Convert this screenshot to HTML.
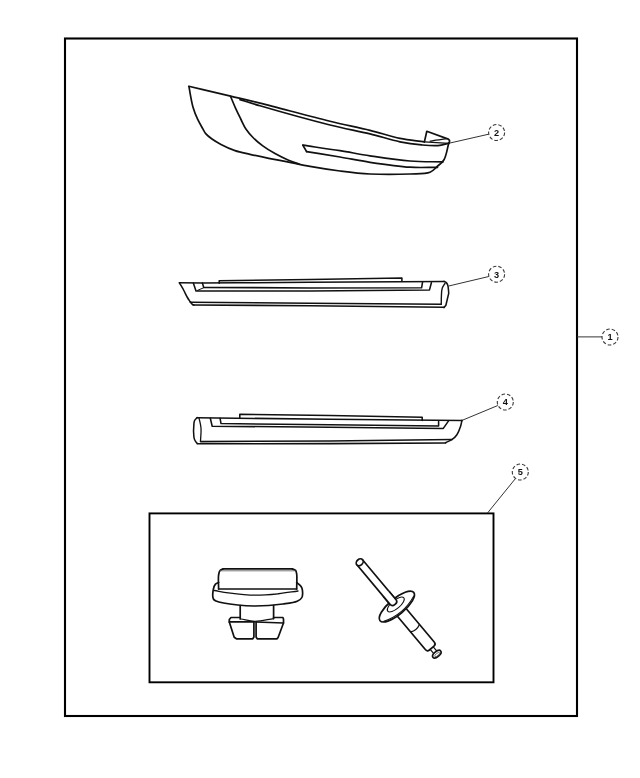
<!DOCTYPE html>
<html><head><meta charset="utf-8"><title>Parts diagram</title>
<style>
html,body{margin:0;padding:0;background:#fff;}
body{width:640px;height:778px;overflow:hidden;font-family:"Liberation Sans",sans-serif;}
svg{display:block;}
text{will-change:transform;}
</style></head><body>
<svg width="640" height="778" viewBox="0 0 640 778"><rect x="65" y="38.5" width="512" height="677.5" fill="none" stroke="#000" stroke-width="2.1"/>
<rect x="149.5" y="513.4" width="344" height="168.9" fill="none" stroke="#000" stroke-width="1.9"/>
<path d="M577.00,336.90 L602.20,336.90" fill="none" stroke="#333" stroke-width="1.0" stroke-linejoin="round" stroke-linecap="butt"/>
<circle cx="610.0" cy="337.0" r="8" fill="#fff" stroke="#383838" stroke-width="1.1" stroke-dasharray="3.6 2.0"/>
<text x="610.0" y="340.3" font-family="Liberation Sans, sans-serif" font-size="9.2" font-weight="bold" fill="#111" text-anchor="middle">1</text>
<path d="M450.00,143.00 L488.70,134.20" fill="none" stroke="#333" stroke-width="1.0" stroke-linejoin="round" stroke-linecap="butt"/>
<circle cx="496.6" cy="132.5" r="8" fill="#fff" stroke="#383838" stroke-width="1.1" stroke-dasharray="3.6 2.0"/>
<text x="496.6" y="135.8" font-family="Liberation Sans, sans-serif" font-size="9.2" font-weight="bold" fill="#111" text-anchor="middle">2</text>
<path d="M448.75,286.00 L488.80,276.50" fill="none" stroke="#333" stroke-width="1.0" stroke-linejoin="round" stroke-linecap="butt"/>
<circle cx="496.6" cy="274.2" r="8" fill="#fff" stroke="#383838" stroke-width="1.1" stroke-dasharray="3.6 2.0"/>
<text x="496.6" y="277.5" font-family="Liberation Sans, sans-serif" font-size="9.2" font-weight="bold" fill="#111" text-anchor="middle">3</text>
<path d="M462.50,420.20 L497.80,405.50" fill="none" stroke="#333" stroke-width="1.0" stroke-linejoin="round" stroke-linecap="butt"/>
<circle cx="505.3" cy="402.0" r="8" fill="#fff" stroke="#383838" stroke-width="1.1" stroke-dasharray="3.6 2.0"/>
<text x="505.3" y="405.3" font-family="Liberation Sans, sans-serif" font-size="9.2" font-weight="bold" fill="#111" text-anchor="middle">4</text>
<path d="M487.50,513.00 L515.50,478.50" fill="none" stroke="#333" stroke-width="1.0" stroke-linejoin="round" stroke-linecap="butt"/>
<circle cx="520.3" cy="472.0" r="8" fill="#fff" stroke="#383838" stroke-width="1.1" stroke-dasharray="3.6 2.0"/>
<text x="520.3" y="475.3" font-family="Liberation Sans, sans-serif" font-size="9.2" font-weight="bold" fill="#111" text-anchor="middle">5</text>
<path d="M189.00,86.50 C189.47,89.30 189.81,91.82 190.40,94.90 C191.12,98.68 191.89,103.42 193.10,107.50 C194.30,111.52 195.90,115.52 197.60,119.20 C199.22,122.69 201.49,126.45 203.00,129.10 C204.03,130.90 204.46,132.13 205.70,133.60 C207.26,135.45 209.63,137.29 212.00,139.00 C214.66,140.92 217.61,142.64 221.00,144.40 C225.10,146.53 230.18,148.95 235.00,150.60 C239.84,152.26 244.71,153.08 250.00,154.30 C255.89,155.65 262.49,157.05 268.75,158.30 C274.99,159.55 280.97,160.52 287.50,161.80 C294.66,163.20 301.94,164.96 310.00,166.40 C319.26,168.06 329.98,169.73 340.00,171.00 C349.98,172.26 359.27,173.46 370.00,174.00 C382.36,174.62 398.96,174.47 410.00,174.00 C417.82,173.67 425.14,174.25 430.00,172.30 C433.37,170.95 435.14,168.38 437.50,166.25 C439.81,164.17 442.26,162.66 444.00,159.70 C446.37,155.67 447.17,148.77 448.75,143.30" fill="none" stroke="#111" stroke-width="1.7" stroke-linejoin="round" stroke-linecap="round" />
<path d="M230.60,96.50 C232.43,100.80 234.32,105.49 236.10,109.40 C237.61,112.72 238.94,115.37 240.50,118.50 C242.19,121.88 243.77,125.79 245.90,129.00 C247.96,132.11 250.32,134.78 253.00,137.50 C255.90,140.43 259.25,143.28 262.80,145.90 C266.55,148.67 270.80,151.25 275.00,153.60 C279.20,155.95 283.76,158.18 288.00,160.00 C291.88,161.66 295.60,162.80 299.40,164.20" fill="none" stroke="#111" stroke-width="1.7" stroke-linejoin="round" stroke-linecap="round" />
<path d="M188.75,86.25 C202.70,89.53 217.88,93.09 230.60,96.10 C241.26,98.62 248.13,100.15 260.00,103.10 C278.37,107.67 309.88,116.37 330.00,121.25 C345.15,124.93 357.65,127.26 370.00,130.30 C380.75,132.95 390.46,136.33 400.00,138.30 C408.50,140.05 416.27,140.70 424.40,141.90" fill="none" stroke="#111" stroke-width="1.7" stroke-linejoin="round" stroke-linecap="round" />
<path d="M240.00,99.60 C246.67,101.67 251.28,103.25 260.00,105.80 C276.23,110.54 309.86,120.00 330.00,125.00 C345.13,128.76 357.65,130.90 370.00,133.90 C380.74,136.51 390.77,139.93 400.00,141.80 C407.74,143.37 414.88,144.28 421.60,144.90 C427.43,145.44 433.13,146.01 438.00,145.60 C441.98,145.26 445.17,144.07 448.75,143.30" fill="none" stroke="#111" stroke-width="1.7" stroke-linejoin="round" stroke-linecap="round" />
<path d="M424.40,141.90 L426.80,131.30 L448.30,139.10 L448.30,139.10 C448.73,139.67 449.49,140.15 449.60,140.80 C449.72,141.53 449.03,142.47 448.75,143.30" fill="none" stroke="#111" stroke-width="1.7" stroke-linejoin="round" stroke-linecap="round" />
<path d="M430.20,141.20 C432.13,140.87 433.77,140.56 436.00,140.20 C439.02,139.71 443.13,139.13 446.70,138.60" fill="none" stroke="#111" stroke-width="1.3" stroke-linejoin="round" stroke-linecap="round" />
<path d="M424.40,141.90 L448.75,143.30" fill="none" stroke="#111" stroke-width="1.2" stroke-linejoin="round" stroke-linecap="round" />
<path d="M302.90,145.20 C315.27,147.03 328.30,148.84 340.00,150.70 C350.54,152.38 359.27,154.19 370.00,155.80 C382.36,157.65 397.28,160.00 410.00,161.00 C421.50,161.90 432.00,161.60 443.00,161.90" fill="none" stroke="#111" stroke-width="1.7" stroke-linejoin="round" stroke-linecap="round" />
<path d="M306.60,151.60 C317.73,153.40 329.17,155.17 340.00,157.00 C350.27,158.74 359.26,160.69 370.00,162.30 C382.35,164.15 397.89,166.44 410.00,167.20 C420.00,167.83 428.33,167.27 437.50,167.30" fill="none" stroke="#111" stroke-width="1.7" stroke-linejoin="round" stroke-linecap="round" />
<path d="M302.90,145.20 L306.60,151.60" fill="none" stroke="#111" stroke-width="1.7" stroke-linejoin="round" stroke-linecap="round" />
<path d="M179.40,282.80 L202.50,282.90" fill="none" stroke="#111" stroke-width="1.55" stroke-linejoin="round" stroke-linecap="round" />
<path d="M202.50,283.10 C238.33,282.83 272.19,282.57 310.00,282.30 C352.21,282.00 399.33,281.70 444.00,281.40" fill="none" stroke="#111" stroke-width="1.55" stroke-linejoin="round" stroke-linecap="round" />
<path d="M444.00,281.40 C444.77,281.80 445.68,282.00 446.30,282.60 C446.97,283.24 447.42,284.05 447.80,285.20 C448.42,287.08 448.43,290.47 448.75,293.10 L448.75,293.10 L445.90,305.30 L444.00,307.60" fill="none" stroke="#111" stroke-width="1.55" stroke-linejoin="round" stroke-linecap="round" />
<path d="M445.00,283.30 C444.07,285.00 442.81,286.46 442.20,288.40 C441.50,290.62 441.56,293.42 441.40,296.00 C441.23,298.68 441.30,301.47 441.25,304.20" fill="none" stroke="#111" stroke-width="1.4" stroke-linejoin="round" stroke-linecap="round" />
<path d="M219.20,283.20 L219.20,280.70 L310.00,279.40 L401.90,278.10 L401.90,281.00" fill="none" stroke="#111" stroke-width="1.55" stroke-linejoin="round" stroke-linecap="round" />
<path d="M179.40,282.80 C180.80,285.20 182.27,287.56 183.60,290.00 C184.94,292.46 186.14,295.32 187.40,297.50 C188.43,299.28 189.47,300.63 190.50,302.20" fill="none" stroke="#111" stroke-width="1.55" stroke-linejoin="round" stroke-linecap="round" />
<path d="M190.50,302.20 C191.13,302.93 191.73,303.96 192.40,304.40 C192.91,304.74 193.47,304.73 194.00,304.90" fill="none" stroke="#111" stroke-width="1.55" stroke-linejoin="round" stroke-linecap="round" />
<path d="M190.50,302.20 L310.00,303.20 L441.25,304.30" fill="none" stroke="#111" stroke-width="1.55" stroke-linejoin="round" stroke-linecap="round" />
<path d="M193.00,304.90 L310.00,305.80 L444.00,307.30" fill="none" stroke="#111" stroke-width="1.55" stroke-linejoin="round" stroke-linecap="round" />
<path d="M193.40,283.25 L196.00,290.90 L310.00,290.90 L429.50,289.90 L431.40,282.80" fill="none" stroke="#111" stroke-width="1.55" stroke-linejoin="round" stroke-linecap="round" />
<path d="M202.50,283.60 L203.75,287.40 L310.00,287.90 L421.60,287.80 L422.50,282.30" fill="none" stroke="#111" stroke-width="1.55" stroke-linejoin="round" stroke-linecap="round" />
<path d="M197.50,290.40 L203.50,287.80" fill="none" stroke="#111" stroke-width="1.0" stroke-linejoin="round" stroke-linecap="round" />
<path d="M239.80,418.00 L239.80,414.20 L330.00,415.60 L422.20,417.20 L422.20,420.50" fill="none" stroke="#111" stroke-width="1.55" stroke-linejoin="round" stroke-linecap="round" />
<path d="M197.20,417.80 L330.00,419.20 L462.00,420.60" fill="none" stroke="#111" stroke-width="1.55" stroke-linejoin="round" stroke-linecap="round" />
<path d="M462.00,420.20 C461.53,422.22 461.31,424.10 460.60,426.25 C459.73,428.87 458.46,432.41 456.90,434.70 C455.57,436.65 454.02,438.09 452.20,439.40 C450.28,440.78 447.80,441.60 445.60,442.70" fill="none" stroke="#111" stroke-width="1.55" stroke-linejoin="round" stroke-linecap="round" />
<path d="M197.20,417.60 C196.33,418.57 195.15,419.40 194.60,420.50 C194.08,421.55 194.05,422.45 193.90,424.00 C193.61,426.95 193.45,434.06 193.90,437.00 C194.14,438.56 194.45,439.43 195.00,440.50 C195.55,441.56 196.47,442.43 197.20,443.40" fill="none" stroke="#111" stroke-width="1.55" stroke-linejoin="round" stroke-linecap="round" />
<path d="M199.00,417.80 C199.67,421.20 200.72,424.36 201.00,428.00 C201.32,432.11 200.67,436.83 200.50,441.25" fill="none" stroke="#111" stroke-width="1.3" stroke-linejoin="round" stroke-linecap="round" />
<path d="M200.50,441.60 L330.00,440.90 L452.20,439.40" fill="none" stroke="#111" stroke-width="1.55" stroke-linejoin="round" stroke-linecap="round" />
<path d="M197.20,443.80 L330.00,443.60 L445.60,442.90" fill="none" stroke="#111" stroke-width="1.55" stroke-linejoin="round" stroke-linecap="round" />
<path d="M210.30,418.30 L212.20,426.25 L330.00,427.20 L443.30,428.40 L448.40,421.10" fill="none" stroke="#111" stroke-width="1.55" stroke-linejoin="round" stroke-linecap="round" />
<path d="M220.10,418.30 L221.00,423.60 L330.00,424.80 L438.60,425.90 L438.60,421.60" fill="none" stroke="#111" stroke-width="1.55" stroke-linejoin="round" stroke-linecap="round" />
<path d="M218.60,589.00 C218.60,584.33 218.09,578.35 218.60,575.00 C218.90,573.06 219.15,571.53 220.00,570.50 C220.72,569.63 222.00,569.43 223.00,568.90" fill="none" stroke="#111" stroke-width="1.7" stroke-linejoin="round" stroke-linecap="round" />
<path d="M223.00,568.90 L292.50,568.90" fill="none" stroke="#111" stroke-width="1.7" stroke-linejoin="round" stroke-linecap="round" />
<path d="M292.50,568.90 C293.53,569.40 294.90,569.58 295.60,570.40 C296.33,571.25 296.46,572.36 296.70,574.00 C297.19,577.26 296.70,584.00 296.70,589.00" fill="none" stroke="#111" stroke-width="1.7" stroke-linejoin="round" stroke-linecap="round" />
<path d="M220.00,570.80 L295.00,570.80" fill="none" stroke="#555" stroke-width="0.8" stroke-linejoin="round" stroke-linecap="round" />
<path d="M218.60,589.00 L296.70,589.00" fill="none" stroke="#111" stroke-width="1.6" stroke-linejoin="round" stroke-linecap="round" />
<path d="M214.40,590.50 C219.07,591.27 222.98,592.11 228.40,592.80 C235.84,593.75 246.41,595.08 255.00,595.20 C263.05,595.31 270.96,594.50 278.40,593.75 C285.24,593.06 291.47,591.92 298.00,591.00" fill="none" stroke="#111" stroke-width="1.3" stroke-linejoin="round" stroke-linecap="round" />
<path d="M218.60,582.50 C217.50,583.13 216.15,583.44 215.30,584.40 C214.33,585.50 213.77,587.13 213.40,589.00 C212.87,591.65 212.44,597.05 213.40,599.00 C213.95,600.12 214.60,600.38 216.00,601.00 C219.65,602.62 230.94,604.17 237.80,605.00 C243.85,605.73 248.57,606.04 255.00,606.00 C263.20,605.95 275.26,605.02 283.00,604.00 C288.55,603.27 293.87,602.79 297.20,601.25 C299.35,600.26 301.03,599.31 301.90,597.50 C303.00,595.22 302.72,590.31 301.90,588.00 C301.33,586.39 299.96,585.37 299.00,584.40 C298.23,583.62 297.47,583.13 296.70,582.50" fill="none" stroke="#111" stroke-width="1.7" stroke-linejoin="round" stroke-linecap="round" />
<path d="M240.20,605.50 L240.20,619.00" fill="none" stroke="#111" stroke-width="1.7" stroke-linejoin="round" stroke-linecap="round" />
<path d="M273.60,605.50 L273.60,618.60" fill="none" stroke="#111" stroke-width="1.7" stroke-linejoin="round" stroke-linecap="round" />
<path d="M240.80,619.00 C245.53,619.77 249.94,621.26 255.00,621.30 C260.78,621.35 267.40,619.50 273.60,618.60" fill="none" stroke="#111" stroke-width="1.2" stroke-linejoin="round" stroke-linecap="round" />
<path d="M240.20,617.50 L231.00,617.50 L229.30,619.50 L229.30,621.90 L234.20,637.20 L236.40,638.80 L252.80,638.80 L253.90,637.00 L253.90,621.90" fill="none" stroke="#111" stroke-width="1.7" stroke-linejoin="round" stroke-linecap="round" />
<path d="M229.30,621.90 L253.90,621.90" fill="none" stroke="#111" stroke-width="1.7" stroke-linejoin="round" stroke-linecap="round" />
<path d="M273.60,617.50 L282.90,617.50 L283.50,619.00 L283.50,623.00 L278.00,637.70 L276.90,638.80 L257.20,638.80 L256.10,637.00 L256.10,622.00" fill="none" stroke="#111" stroke-width="1.7" stroke-linejoin="round" stroke-linecap="round" />
<path d="M256.10,622.00 L283.50,623.00" fill="none" stroke="#111" stroke-width="1.7" stroke-linejoin="round" stroke-linecap="round" />
<g transform="translate(360.35,563.05) rotate(50)"><rect x="-1" y="-3.8" width="60" height="7.6" rx="0" fill="#fff" stroke="#111" stroke-width="1.7"/><ellipse cx="-1" cy="0" rx="3.0" ry="3.8" fill="#fff" stroke="#111" stroke-width="1.7"/><path d="M60,-5.8 L108,-5.8 Q111,-5.8 111,-3 L111,3 Q111,5.8 108,5.8 L60,5.8" fill="#fff" stroke="#111" stroke-width="1.7"/><path d="M85,-5.8 Q88,0 85,5.8" fill="none" stroke="#111" stroke-width="1.2"/><path d="M111,-2 L117,-2 M111,2 L117,2" fill="none" stroke="#111" stroke-width="1.2"/><ellipse cx="119" cy="0" rx="2.6" ry="5" fill="#fff" stroke="#111" stroke-width="1.7"/><ellipse cx="119.5" cy="0" rx="1.2" ry="3" fill="none" stroke="#555" stroke-width="0.8"/><ellipse cx="56.8" cy="0" rx="7.9" ry="22" fill="#fff" stroke="#111" stroke-width="1.7"/><path d="M59.5,-20 Q67.5,0 59.5,20" fill="none" stroke="#111" stroke-width="1.0"/><ellipse cx="54.5" cy="-0.5" rx="4.2" ry="10.5" fill="none" stroke="#111" stroke-width="1.1"/><path d="M40,-3.8 L51,-3.8 Q54,-3.8 54,0 Q54,3.8 51,3.8 L40,3.8" fill="#fff" stroke="#111" stroke-width="1.7"/></g></svg>
</body></html>
